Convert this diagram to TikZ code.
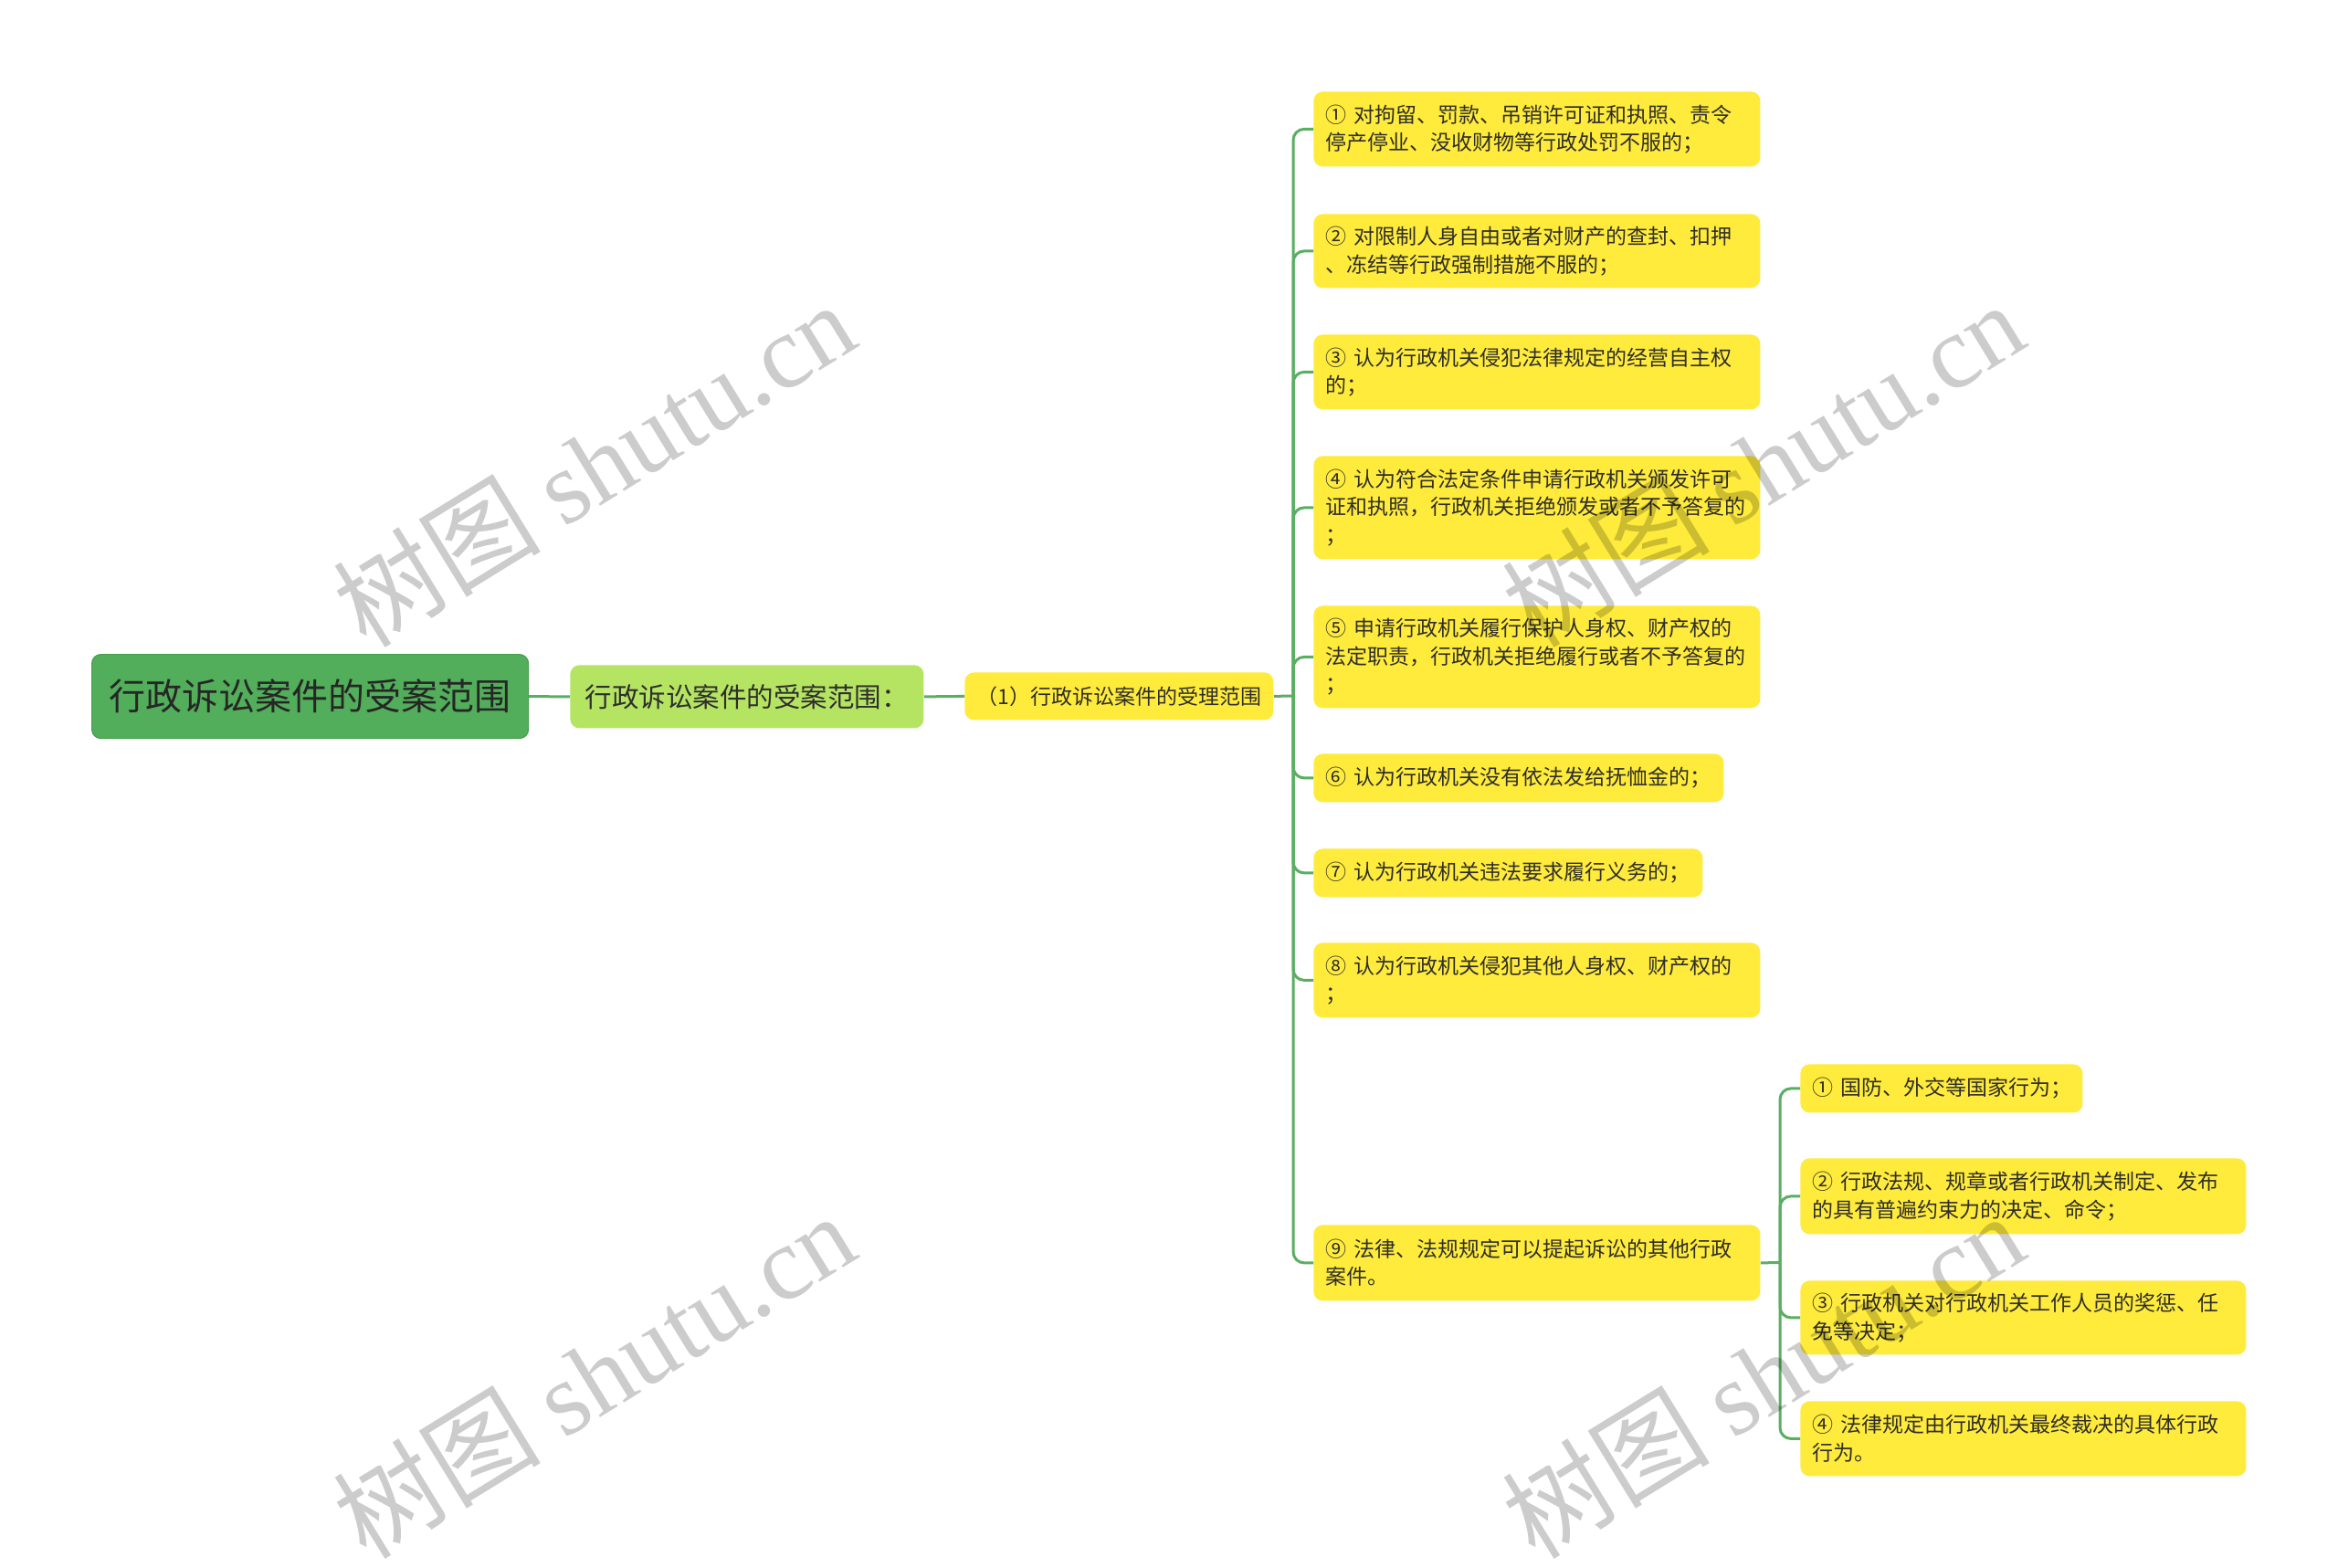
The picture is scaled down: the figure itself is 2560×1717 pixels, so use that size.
\documentclass[tikz,border=0pt]{standalone}
\usepackage{fontspec}
\setmainfont{Noto Sans CJK SC}
\newfontfamily\wmlatin{Liberation Serif}
\newfontfamily\wmcjk{Noto Sans CJK SC}
\definecolor{rootgreen}{HTML}{52AE5A}
\definecolor{rootedge}{HTML}{45A04E}
\definecolor{lightgreen}{HTML}{B5E462}
\definecolor{leafyellow}{HTML}{FFEB3B}
\definecolor{linegreen}{HTML}{5AAE61}
\definecolor{txt}{HTML}{2E2E2E}
\begin{document}
\begin{tikzpicture}[x=0.5pt,y=-0.5pt,
  box/.style={anchor=north west, rounded corners=5pt, inner xsep=6.5pt, inner ysep=0pt, text=txt},
  leaf/.style={box, fill=leafyellow, align=left, font=\fontsize{11.5}{15.25}\selectfont, minimum height=#1},
  conn/.style={draw=linegreen, line width=1.5pt},
  branch/.style={conn, rounded corners=6pt},
  wm/.style={rotate=31.6, text=black, opacity=0.2, font=\fontsize{57}{57}\selectfont}]
\fill[white] (0,0) rectangle (2560,1717);
\useasboundingbox (0,0) rectangle (2560,1717);

% main nodes
\node[box, fill=rootgreen, draw=rootedge, line width=0.6pt, inner xsep=0pt, minimum width=239pt, minimum height=46pt,
      font=\fontsize{20}{24}\selectfont, text=black!85] (root) at (100,716) {行政诉讼案件的受案范围};
\node[box, fill=lightgreen, inner xsep=0pt, minimum width=193.5pt, minimum height=34.5pt,
      font=\fontsize{14.75}{18}\selectfont] (l1) at (624,728) {行政诉讼案件的受案范围：};
\node[box, fill=leafyellow, inner xsep=0pt, minimum width=169pt, minimum height=26pt,
      font=\fontsize{11.5}{14}\selectfont] (l2) at (1056,736) {（1）行政诉讼案件的受理范围};

% leaves
\node[leaf=41pt, text width=231.5pt] (b1) at (1438,100) {①~对拘留、罚款、吊销许可证和执照、责令\\停产停业、没收财物等行政处罚不服的；};
\node[leaf=40.5pt, text width=231.5pt] (b2) at (1438,234) {②~对限制人身自由或者对财产的查封、扣押\\、冻结等行政强制措施不服的；};
\node[leaf=41pt, text width=231.5pt] (b3) at (1438,366) {③~认为行政机关侵犯法律规定的经营自主权\\的；};
\node[leaf=56.5pt, text width=231.5pt] (b4) at (1438,499) {④~认为符合法定条件申请行政机关颁发许可\\证和执照，行政机关拒绝颁发或者不予答复的\\；};
\node[leaf=56pt, text width=231.5pt] (b5) at (1438,663) {⑤~申请行政机关履行保护人身权、财产权的\\法定职责，行政机关拒绝履行或者不予答复的\\；};
\node[leaf=26.5pt, text width=211.5pt] (b6) at (1438,825) {⑥~认为行政机关没有依法发给抚恤金的；};
\node[leaf=26.5pt, text width=200pt] (b7) at (1438,929) {⑦~认为行政机关违法要求履行义务的；};
\node[leaf=41pt, text width=231.5pt] (b8) at (1438,1032) {⑧~认为行政机关侵犯其他人身权、财产权的\\；};
\node[leaf=41.5pt, text width=231.5pt] (b9) at (1438,1341) {⑨~法律、法规规定可以提起诉讼的其他行政\\案件。};

% sub leaves
\node[leaf=26.5pt, text width=141.5pt] (s1) at (1971,1165) {①~国防、外交等国家行为；};
\node[leaf=41.5pt, text width=231pt] (s2) at (1971,1268) {②~行政法规、规章或者行政机关制定、发布\\的具有普遍约束力的决定、命令；};
\node[leaf=40.5pt, text width=231pt] (s3) at (1971,1402) {③~行政机关对行政机关工作人员的奖惩、任\\免等决定；};
\node[leaf=41pt, text width=231pt] (s4) at (1971,1534) {④~法律规定由行政机关最终裁决的具体行政\\行为。};

% connectors
\draw[conn] (root.east) -- (l1.west);
\draw[conn] (l1.east) -- (l2.west);
\coordinate (t1) at (1416,762);
\draw[conn] (l2.east) -- (t1);
\foreach \b in {b1,b2,b3,b4,b5,b6,b7,b8,b9} \draw[branch] (t1) |- (\b.west);
\coordinate (t2) at (1949,1382.5);
\draw[conn] (b9.east) -- (t2);
\foreach \s in {s1,s2,s3,s4} \draw[branch] (t2) |- (\s.west);

% watermarks
\node[wm] (wm1) at (650,508) {{\wmcjk 树图} {\wmlatin shutu.cn}};
\node[wm] (wm2) at (1930,508) {{\wmcjk 树图} {\wmlatin shutu.cn}};
\node[wm] (wm3) at (650,1506) {{\wmcjk 树图} {\wmlatin shutu.cn}};
\node[wm] (wm4) at (1930,1506) {{\wmcjk 树图} {\wmlatin shutu.cn}};
\end{tikzpicture}
\end{document}
